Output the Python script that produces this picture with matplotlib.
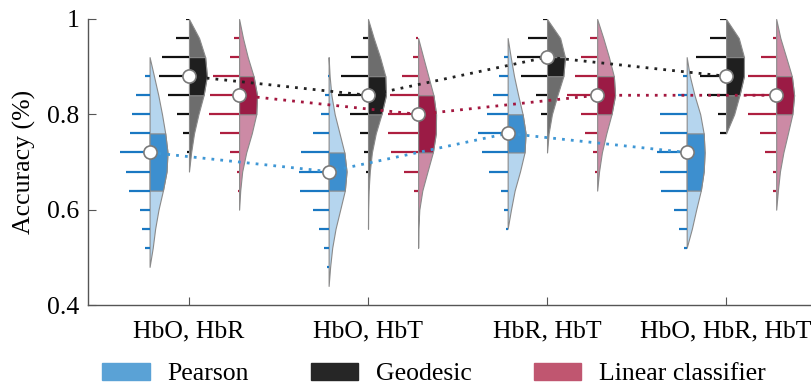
import matplotlib.pyplot as plt
import numpy as np

plt.rcParams['font.family'] = ['Liberation Serif', 'DejaVu Serif']

# gruppen / methoden
groups = ['HbO, HbR', 'HbO, HbT', 'HbR, HbT', 'HbO, HbR, HbT']
methods = ['Pearson', 'Geodesic', 'Linear classifier']
group_x = [1, 2, 3, 4]
offsets = [-0.22, 0.0, 0.28]

# median pro gruppe
med_pearson = [0.72, 0.68, 0.76, 0.72]
med_geodesic = [0.88, 0.84, 0.92, 0.88]
med_linear = [0.84, 0.80, 0.84, 0.84]

# quartile (unten, oben)
q_pearson = [(0.64, 0.76), (0.64, 0.72), (0.72, 0.80), (0.64, 0.76)]
q_geodesic = [(0.84, 0.92), (0.80, 0.88), (0.88, 0.92), (0.84, 0.92)]
q_linear = [(0.80, 0.88), (0.72, 0.84), (0.80, 0.88), (0.80, 0.88)]

# violin bereich (min, max)
rng_pearson = [(0.48, 0.92), (0.44, 0.92), (0.56, 0.96), (0.52, 0.92)]
rng_geodesic = [(0.68, 1.0), (0.56, 1.0), (0.72, 1.0), (0.76, 1.0)]
rng_linear = [(0.60, 1.0), (0.52, 0.96), (0.64, 1.0), (0.60, 1.0)]

# histogramme (bins alle 0.04 ab startwert)
bin_w = 0.04
h0_pearson = [0.52, 0.48, 0.56, 0.52]
h_pearson = [[15, 22, 30, 62, 72, 92, 60, 54, 42, 13],
             [5, 13, 30, 48, 88, 91, 83, 48, 23, 10, 2],
             [5, 11, 21, 56, 78, 90, 63, 43, 26, 10],
             [7, 22, 38, 77, 80, 90, 80, 80, 25, 10]]
h0_geodesic = [0.72, 0.68, 0.80, 0.76]
h_geodesic = [[6, 17, 36, 61, 88, 80, 38, 8],
              [7, 12, 25, 55, 90, 82, 52, 15],
              [17, 33, 78, 90, 58, 13],
              [17, 23, 55, 75, 88, 48, 17]]
h0_linear = [0.64, 0.64, 0.68, 0.64]
h_linear = [[4, 7, 27, 57, 90, 87, 77, 28, 15],
            [12, 43, 80, 90, 90, 85, 47, 15, 7],
            [5, 12, 37, 49, 89, 67, 47, 20],
            [7, 9, 29, 42, 74, 78, 74, 39, 7]]

# farben: hell, dunkel, histo, punktlinie, legende
cols = [('#b5d5ee', '#3d8fcf', '#1a78c2', '#3f97d5', '#5aa2d6'),
        ('#6d6d6d', '#1f1f1f', '#111111', '#222222', '#262626'),
        ('#cc8aa5', '#9b1b45', '#ae1f40', '#a3173f', '#c05670')]

meds = [med_pearson, med_geodesic, med_linear]
qs = [q_pearson, q_geodesic, q_linear]
rngs = [rng_pearson, rng_geodesic, rng_linear]
h0s = [h0_pearson, h0_geodesic, h0_linear]
hs = [h_pearson, h_geodesic, h_linear]

vw = 0.10   # halbe violinbreite
hw = 0.168  # max histo laenge
edge = '#8a8a8a'
fs = 18.5

fig = plt.figure(figsize=(8.12, 3.85), dpi=100)
ax = fig.add_axes([88 / 812, 80 / 385, 1 - 88 / 812, 286 / 385])

for m in range(3):
    light, dark, hcol, lcol, _ = cols[m]
    xs = [g + offsets[m] for g in group_x]
    for i, x in enumerate(xs):
        lo, hi = rngs[m][i]
        counts = np.array(hs[m][i], dtype=float)
        bins = h0s[m][i] + bin_w * np.arange(len(counts))
        # violin aus geglaettetem histogramm
        y = np.round(np.arange(lo, hi + bin_w / 2, bin_w), 2)
        w = (counts[None, :] * np.exp(-0.5 * ((y[:, None] - bins[None, :]) / bin_w) ** 2)).sum(1)
        w[0] = 0
        w[-1] = 0
        w = w / w.max() * vw
        ax.fill_betweenx(y, x, x + w, facecolor=light, edgecolor=edge, lw=0.8, zorder=2)
        qlo, qhi = qs[m][i]
        k = (y >= qlo - 1e-6) & (y <= qhi + 1e-6)
        ax.fill_betweenx(y[k], x, x + w[k], facecolor=dark, edgecolor=edge, lw=0.8, zorder=2)
        # histogramm nach links
        ax.hlines(bins, x - counts / counts.max() * hw, x, color=hcol, lw=1.6, zorder=2)
    # median verbinden
    ax.plot(xs, meds[m], ls=(0, (1, 2.2)), lw=2, color=lcol, zorder=4)
    ax.plot(xs, meds[m], 'o', ms=9.5, mfc='white', mec='#7a7a7a', mew=1.2, zorder=5)

# achsen
ax.set_ylim(0.4, 1.0)
ax.set_xlim(0.436, 4.48)
ax.set_yticks([0.4, 0.6, 0.8, 1.0])
ax.set_yticklabels(['0.4', '0.6', '0.8', '1'])
ax.set_xticks(group_x)
ax.set_xticklabels(groups)
ax.tick_params(direction='in', length=6, width=0.8, color='#555555', labelsize=fs)
ax.tick_params(axis='x', pad=11)
ax.tick_params(axis='y', pad=6)
for s in ['top', 'right']:
    ax.spines[s].set_visible(False)
for s in ['left', 'bottom']:
    ax.spines[s].set_color('#555555')
    ax.spines[s].set_linewidth(1.0)
ax.set_ylabel('Accuracy (%)', fontsize=fs, labelpad=8)

# legende
handles = [plt.Rectangle((0, 0), 1, 1, color=cols[m][4]) for m in range(3)]
fig.legend(handles, methods, loc='center left', bbox_to_anchor=(102 / 812, 11 / 385),
           ncol=3, frameon=False, fontsize=fs, handlelength=1.85, handleheight=0.65,
           handletextpad=0.7, columnspacing=2.4, borderpad=0, borderaxespad=0)

fig.savefig('out.png', dpi=100)
